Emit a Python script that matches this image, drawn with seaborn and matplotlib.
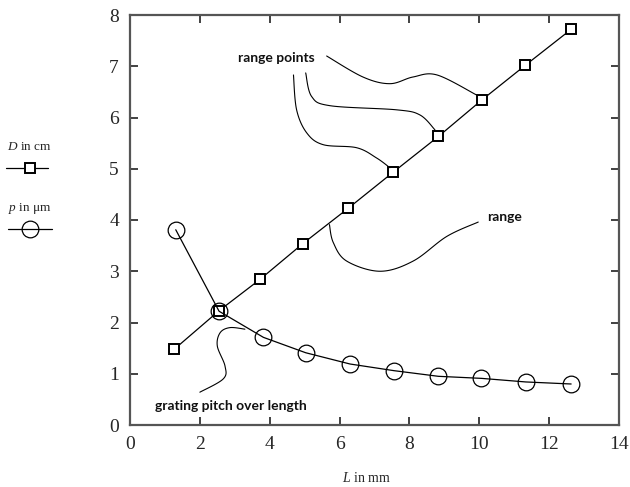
import numpy as np
import matplotlib
matplotlib.use("Agg")
import matplotlib.pyplot as plt
from matplotlib.lines import Line2D
import seaborn as sns
import pandas as pd

# data
L_mm = [1.27, 2.55, 3.72, 4.95, 6.25, 7.53, 8.83, 10.07, 11.32, 12.63]
D_cm = [1.48, 2.23, 2.84, 3.54, 4.23, 4.93, 5.63, 6.34, 7.02, 7.72]
L_mm_p = [1.31, 2.55, 3.82, 5.03, 6.30, 7.56, 8.83, 10.06, 11.33, 12.63]
p_um = [3.81, 2.22, 1.71, 1.41, 1.19, 1.06, 0.95, 0.91, 0.84, 0.80]

# hand drawn leader curves (data coords)
lead_range_pts = [
    [(5.63, 7.20), (6.67, 6.79), (7.44, 6.66), (8.10, 6.79), (8.79, 6.83), (9.92, 6.44)],
    [(5.03, 6.87), (5.20, 6.41), (5.73, 6.23), (7.63, 6.15), (8.30, 6.05), (8.73, 5.76)],
    [(4.68, 6.83), (4.77, 6.15), (5.06, 5.70), (5.53, 5.47), (6.49, 5.41), (7.06, 5.21), (7.44, 5.02)],
]
lead_range = [(9.97, 3.96), (9.07, 3.68), (8.11, 3.20), (7.16, 3.00), (6.20, 3.20), (5.82, 3.56), (5.71, 3.91)]
lead_pitch = [(2.00, 0.64), (2.67, 0.90), (2.72, 1.15), (2.50, 1.54), (2.58, 1.80), (2.86, 1.90), (3.29, 1.87)]


def smooth(pts, n=20):
    # catmull-rom through the guide points, only for the drawn leader lines
    p = np.array(pts)
    p = np.vstack([p[0], p, p[-1]])
    out = []
    for i in range(1, len(p) - 2):
        p0, p1, p2, p3 = p[i - 1], p[i], p[i + 1], p[i + 2]
        for t in np.linspace(0, 1, n, endpoint=False):
            out.append(0.5 * ((2 * p1) + (-p0 + p2) * t + (2 * p0 - 5 * p1 + 4 * p2 - p3) * t ** 2
                              + (-p0 + 3 * p1 - 3 * p2 + p3) * t ** 3))
    out.append(p[-2])
    return np.array(out)


sns.set_theme(style="ticks")
plt.rcParams['font.family'] = ['Liberation Serif', 'DejaVu Serif']
plt.rcParams['mathtext.fontset'] = 'custom'
plt.rcParams['mathtext.it'] = 'Liberation Serif:italic'
plt.rcParams['mathtext.rm'] = 'Liberation Serif'

fig = plt.figure(figsize=(6.3, 4.87), dpi=100)
ax = fig.add_axes([130 / 630, 1 - 425 / 487, 489 / 630, 410 / 487])

df_d = pd.DataFrame({'L': L_mm, 'D': D_cm})
df_p = pd.DataFrame({'L': L_mm_p, 'p': p_um})

sns.lineplot(data=df_d, x='L', y='D', ax=ax, color='black', linewidth=0.9, sort=False,
             marker='s', markersize=7, markerfacecolor='white', markeredgecolor='black',
             markeredgewidth=1.4)
sns.lineplot(data=df_p, x='L', y='p', ax=ax, color='black', linewidth=0.9, sort=False,
             marker='o', markersize=12, markerfacecolor='none', markeredgecolor='black',
             markeredgewidth=0.9)

for c in lead_range_pts + [lead_range, lead_pitch]:
    s = smooth(c)
    ax.plot(s[:, 0], s[:, 1], color='black', linewidth=0.8)

hand = dict(family=['Lato', 'DejaVu Sans'], fontsize=10, fontweight='bold', color='#111111')
ax.text(3.09, 7.16, 'range points', ha='left', va='center', **hand)
ax.text(10.22, 4.05, 'range', ha='left', va='center', **hand)
ax.text(0.72, 0.37, 'grating pitch over length', ha='left', va='center', **hand)

ax.set_xlim(0, 14)
ax.set_ylim(0, 8)
ax.set_xticks(range(0, 15, 2))
ax.set_yticks(range(0, 9))
ax.tick_params(direction='in', length=6, width=1.3, labelsize=14, top=True, right=True,
               color='#333333', pad=8)
for sp in ax.spines.values():
    sp.set_color('#555555')
    sp.set_linewidth(1.6)
ax.set_xlabel('')
ax.set_ylabel('')
fig.text(366 / 630, 1 - 478 / 487, r'$L$ in mm', ha='center', va='center', fontsize=10)

# legend on the left, label above each handle
fig.text(7 / 630, 1 - 147 / 487, r'$D$ in cm', ha='left', va='center', fontsize=9.5)
fig.add_artist(Line2D([6 / 630, 30 / 630, 48 / 630], [1 - 168 / 487] * 3, color='black',
                      linewidth=0.9, marker='s', markevery=[1], markersize=7,
                      markerfacecolor='white', markeredgecolor='black', markeredgewidth=1.4))
fig.text(8 / 630, 1 - 209 / 487, r'$p$ in μm', ha='left', va='center', fontsize=9.5)
fig.add_artist(Line2D([8 / 630, 30 / 630, 52 / 630], [1 - 229 / 487] * 3, color='black',
                      linewidth=0.9, marker='o', markevery=[1], markersize=12,
                      markerfacecolor='none', markeredgecolor='black', markeredgewidth=0.9))

fig.savefig('out.png', dpi=100)
